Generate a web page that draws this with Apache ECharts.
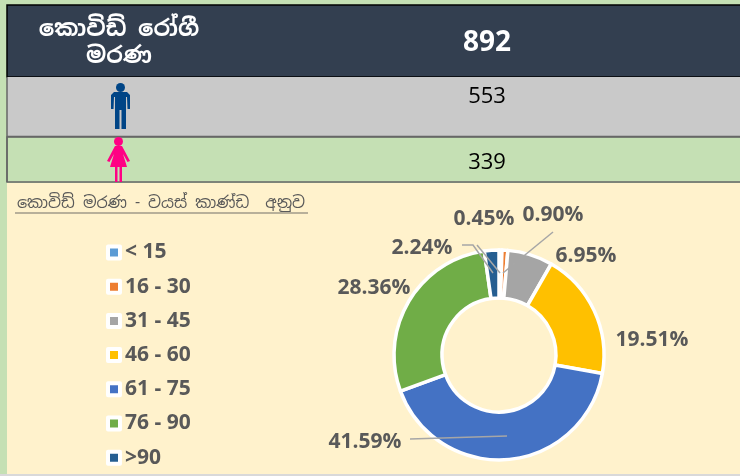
<!DOCTYPE html>
<html>
<head>
<meta charset="utf-8">
<style>
  html, body { margin: 0; padding: 0; background: #c5e0b4; }
  #chart { width: 740px; height: 476px; }
</style>
<script src="https://cdn.jsdelivr.net/npm/echarts@6/dist/echarts.min.js"></script>
</head>
<body>
<div id="chart"></div>
<script>
// values
var ageGroups = ['< 15', '16 - 30', '31 - 45', '46 - 60', '61 - 75', '76 - 90', '>90'];
var agePercent = [0.45, 0.90, 6.95, 19.51, 41.59, 28.36, 2.24];
var ageColors = ['#5b9bd5', '#ed7d31', '#a5a5a5', '#ffc000', '#4472c4', '#70ad47', '#255e91'];
var totalDeaths = 892;
var maleDeaths = 553;
var femaleDeaths = 339;
var headerLines = ['කොවිඩ් රෝගී', 'මරණ'];
var chartTitle = 'කොවිඩ් මරණ - වයස් කාණ්ඩ  අනුව';

// where each percentage label sits, and its leader line if it has one
var labelSpots = [
  { x: 484, y: 219, line: [[477, 245], [500, 273]] },
  { x: 553, y: 215, line: [[553, 232], [503, 273]] },
  { x: 586, y: 256 },
  { x: 652, y: 340 },
  { x: 365, y: 442, line: [[410, 439], [507, 436]] },
  { x: 374, y: 288 },
  { x: 422, y: 248, line: [[462, 245], [473, 245], [493, 273]] }
];

// person icons, points relative to the icon's top left
var manBody = [[3, 9], [16, 9], [19, 12], [19, 26], [16.5, 26], [16, 14], [15, 14], [15, 46], [10.5, 46], [10.5, 27], [8.5, 27], [8.5, 46], [4, 46], [4, 14], [3, 14], [2.5, 26], [0, 26], [0, 12]];
var womanBody = [[8, 9], [15, 9], [23, 24], [20.5, 25], [16, 17], [20, 30], [15, 30], [15, 45], [12.5, 45], [12.5, 30], [10.5, 30], [10.5, 45], [8, 45], [8, 30], [3, 30], [7, 17], [2.5, 25], [0, 24]];

var sinhalaFont = '"Noto Sans Sinhala", "Noto Sans", "Noto Serif Sinhala", sans-serif';
var numberFont = '"Open Sans", sans-serif';

function box(x, y, w, h, fill, stroke, lineWidth) {
  return {
    type: 'rect', z: 1,
    shape: { x: x, y: y, width: w, height: h },
    style: { fill: fill, stroke: stroke || null, lineWidth: lineWidth || 0 }
  };
}

function words(text, x, y, size, color, weight, family) {
  return {
    type: 'text', z: 3, x: x, y: y,
    style: {
      text: text, fill: color, align: 'center', verticalAlign: 'middle',
      font: (weight || 'normal') + ' ' + size + 'px ' + (family || numberFont)
    }
  };
}

function person(x, y, headX, headR, body, color) {
  return {
    type: 'group', x: x, y: y, z: 3,
    children: [
      { type: 'circle', z: 3, shape: { cx: headX, cy: headR, r: headR }, style: { fill: color } },
      { type: 'polygon', z: 3, shape: { points: body }, style: { fill: color } }
    ]
  };
}

// echarts wants three points for a label line
function padLine(line) {
  if (line.length === 3) return line;
  return [line[0], line[0], line[1]];
}

var ringData = ageGroups.map(function (name, i) {
  return { name: name, value: agePercent[i], itemStyle: { color: ageColors[i] } };
});

var chart = echarts.init(document.getElementById('chart'));

chart.setOption({
  animation: false,
  backgroundColor: '#c5e0b4',
  graphic: [
    box(7, 183, 733, 291, '#fff2cc'),
    box(0, 474, 740, 2, '#d9d9d9'),
    box(7, 5, 740, 72, '#333f50', '#000', 1.5),
    box(7, 77, 740, 59, '#c9c9c9'),
    box(7, 137, 740, 45, '#c5e0b4', '#666', 1.5),
    { type: 'line', z: 2, shape: { x1: 7, y1: 136.5, x2: 740, y2: 136.5 }, style: { stroke: '#666', lineWidth: 1.5 } },
    { type: 'line', z: 2, shape: { x1: 7, y1: 77, x2: 7, y2: 182 }, style: { stroke: '#666', lineWidth: 1.5 } },
    words(headerLines[0], 119, 30, 23, '#fff', 'bold', sinhalaFont),
    words(headerLines[1], 119, 57, 23, '#fff', 'bold', sinhalaFont),
    words(String(totalDeaths), 487, 43, 28, '#fff', 'bold'),
    words(String(maleDeaths), 487, 97, 22, '#000'),
    words(String(femaleDeaths), 487, 163, 22, '#000'),
    person(111, 83, 9.5, 4.5, manBody, '#004586'),
    person(107, 137, 11.5, 4.5, womanBody, '#ff0084'),
    words(chartTitle, 161, 204, 16, '#595959', 'normal', sinhalaFont),
    { type: 'line', z: 3, shape: { x1: 15, y1: 213, x2: 308, y2: 213 }, style: { stroke: '#a09a8a', lineWidth: 1.5 } }
  ],
  legend: {
    orient: 'vertical',
    left: 106,
    top: 241,
    height: 260,
    padding: 0,
    itemWidth: 12,
    itemHeight: 12,
    itemGap: 11.2,
    icon: 'rect',
    textStyle: {
      color: '#595959',
      fontFamily: numberFont,
      fontWeight: 'bold',
      fontSize: 21,
      lineHeight: 23
    },
    itemStyle: { borderColor: '#fff', borderWidth: 4 },
    data: ageGroups
  },
  series: [
    {
      type: 'pie',
      center: [499, 355],
      radius: [57, 105],
      startAngle: 90,
      clockwise: true,
      silent: true,
      itemStyle: { borderColor: '#fff', borderWidth: 3.5 },
      label: { show: false },
      labelLine: { show: false },
      data: ringData
    },
    // same ring again, see-through, so the label lines land on top of the slices
    {
      type: 'pie',
      z: 5,
      center: [499, 355],
      radius: [57, 105],
      startAngle: 90,
      clockwise: true,
      silent: true,
      avoidLabelOverlap: false,
      itemStyle: { color: 'transparent', borderWidth: 0 },
      label: {
        show: true,
        color: '#595959',
        fontFamily: numberFont,
        fontWeight: 'bold',
        fontSize: 21,
        formatter: function (p) { return p.value.toFixed(2) + '%'; }
      },
      labelLine: {
        show: true,
        lineStyle: { color: '#a6a6a6', width: 1.5 }
      },
      labelLayout: function (p) {
        var spot = labelSpots[p.dataIndex];
        return {
          x: spot.x, y: spot.y, align: 'center', verticalAlign: 'middle',
          labelLinePoints: spot.line ? padLine(spot.line) : [[spot.x, spot.y], [spot.x, spot.y], [spot.x, spot.y]]
        };
      },
      data: ageGroups.map(function (name, i) {
        return { name: name, value: agePercent[i] };
      })
    }
  ]
});
</script>
</body>
</html>
